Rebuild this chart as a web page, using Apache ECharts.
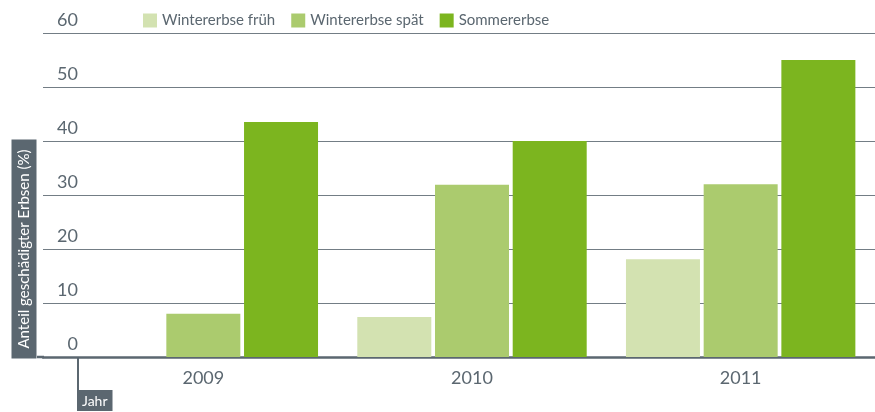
<!DOCTYPE html>
<html>
<head>
<meta charset="utf-8">
<script src="https://cdn.jsdelivr.net/npm/echarts@6/dist/echarts.min.js"></script>
<style>
  html, body { margin: 0; padding: 0; background: #fff; }
  #chart { width: 875px; height: 412px; }
</style>
</head>
<body>
<div id="chart"></div>
<script>
// Anteil geschädigter Erbsen pro Jahr
var jahre = ['2009', '2010', '2011'];
var winterFrueh = [null, 7.4, 18.1];
var winterSpaet = [8.0, 31.9, 32.0];
var sommer = [43.5, 40.0, 55.0];
var yTicks = [0, 10, 20, 30, 40, 50, 60];

var grau = '#5b6770';
var schrift = 'Lato, "Open Sans", sans-serif';

var chart = echarts.init(document.getElementById('chart'));

var option = {
  animation: false,
  textStyle: { fontFamily: schrift },
  color: ['#d3e2b1', '#abcb6e', '#7cb51f'],
  legend: {
    left: 143,
    top: 13,
    padding: 0,
    itemWidth: 14,
    itemHeight: 14,
    itemGap: 16,
    icon: 'rect',
    textStyle: { fontSize: 15, color: grau, fontFamily: schrift },
    data: ['Wintererbse früh', 'Wintererbse spät', 'Sommererbse']
  },
  grid: [
    // nur für Gitterlinien und Achsenlinie
    { left: 43, right: 0, top: 33, bottom: 55 },
    // Balken
    { left: 69, right: 0, top: 33, bottom: 55 }
  ],
  xAxis: [{
    gridIndex: 0,
    type: 'value',
    min: 0,
    max: 1,
    axisLabel: { show: false },
    axisTick: { show: false },
    splitLine: { show: false },
    axisLine: { show: true, lineStyle: { color: grau, width: 2.5 } }
  }, {
    gridIndex: 1,
    type: 'category',
    data: jahre,
    axisLine: { show: false },
    axisTick: { show: false },
    axisLabel: { fontSize: 18, color: grau, margin: 12, fontFamily: schrift }
  }],
  yAxis: [{
    gridIndex: 0,
    type: 'value',
    min: yTicks[0],
    max: yTicks[yTicks.length - 1],
    interval: 10,
    axisLine: { show: false },
    axisTick: { show: false },
    splitLine: { lineStyle: { color: '#737d85', width: 1 } },
    axisLabel: {
      align: 'right',
      verticalAlign: 'bottom',
      margin: -35,
      padding: [0, 0, 4, 0],
      fontSize: 18,
      color: grau,
      fontFamily: schrift
    }
  }, {
    gridIndex: 1,
    type: 'value',
    min: yTicks[0],
    max: yTicks[yTicks.length - 1],
    show: false
  }],
  series: [{
    name: 'Wintererbse früh',
    type: 'bar',
    xAxisIndex: 1,
    yAxisIndex: 1,
    barWidth: 74,
    barGap: '5%',
    data: winterFrueh
  }, {
    name: 'Wintererbse spät',
    type: 'bar',
    xAxisIndex: 1,
    yAxisIndex: 1,
    barWidth: 74,
    barGap: '5%',
    data: winterSpaet
  }, {
    name: 'Sommererbse',
    type: 'bar',
    xAxisIndex: 1,
    yAxisIndex: 1,
    barWidth: 74,
    barGap: '5%',
    data: sommer
  }],
  graphic: [{
    type: 'text',
    x: 24,
    y: 249,
    rotation: Math.PI / 2,
    style: {
      text: 'Anteil geschädigter Erbsen (%)',
      fill: '#fff',
      font: '15px ' + schrift,
      align: 'center',
      verticalAlign: 'middle',
      backgroundColor: grau,
      padding: [5, 10]
    }
  }, {
    // Achsenlinie bis an den Kasten verlängern
    type: 'line',
    shape: { x1: 37, y1: 357, x2: 44, y2: 357 },
    style: { stroke: grau, lineWidth: 2.5 }
  }, {
    type: 'line',
    shape: { x1: 78, y1: 357, x2: 78, y2: 391 },
    style: { stroke: grau, lineWidth: 2 }
  }, {
    type: 'text',
    x: 77,
    y: 390,
    style: {
      text: 'Jahr',
      fill: '#fff',
      font: '14px ' + schrift,
      align: 'left',
      verticalAlign: 'top',
      backgroundColor: grau,
      padding: [4, 5, 3, 5]
    }
  }]
};

chart.setOption(option);
</script>
</body>
</html>
